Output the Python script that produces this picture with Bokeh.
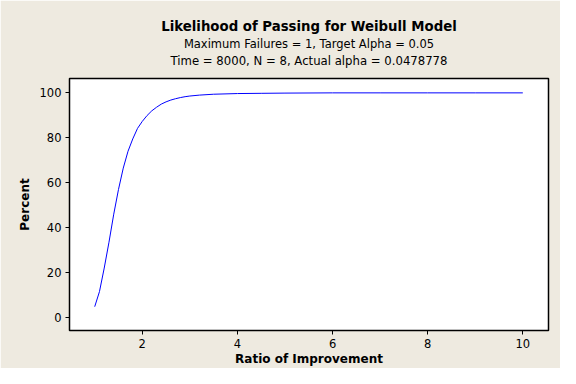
from bokeh.plotting import figure
from bokeh.models import Title, Range1d, FixedTicker
from bokeh.embed import file_html
from bokeh.resources import INLINE

title = "Likelihood of Passing for Weibull Model"
subtitle1 = "Maximum Failures = 1, Target Alpha = 0.05"
subtitle2 = "Time = 8000, N = 8, Actual alpha = 0.0478778"
x_label = "Ratio of Improvement"
y_label = "Percent"

ratio = [1.0, 1.1, 1.2, 1.3, 1.4, 1.5, 1.6, 1.7, 1.8, 1.9, 2.0, 2.1, 2.2, 2.3, 2.4,
         2.5, 2.6, 2.7, 2.8, 2.9, 3.0, 3.2, 3.5, 4.0, 4.5, 5.0, 6.0, 7.0, 8.0, 9.0, 10.0]
percent = [4.8, 11.5, 22.0, 33.5, 46.0, 57.0, 66.5, 74.0, 79.5, 84.2, 87.3, 89.9, 92.0,
           93.6, 95.0, 96.0, 96.8, 97.4, 97.9, 98.3, 98.6, 99.0, 99.4, 99.7, 99.8,
           99.9, 100.0, 100.0, 100.0, 100.0, 100.0]
x_ticks = [2, 4, 6, 8, 10]
y_ticks = [0, 20, 40, 60, 80, 100]

BG = "#EEEAE0"
FONT = "DejaVu Sans"

p = figure(width=560, height=368, output_backend="svg", toolbar_location=None,
           x_range=Range1d(0.47, 10.54), y_range=Range1d(-5.8, 106.4),
           min_border_left=69, min_border_right=12, min_border_top=78, min_border_bottom=30)
p.background_fill_color = "white"
p.border_fill_color = BG
p.outline_line_color = "black"
p.outline_line_width = 1.5
p.grid.visible = False

p.line(ratio, percent, line_color="#0000FF", line_width=1)

for ax in (p.xaxis[0], p.yaxis[0]):
    ax.axis_line_color = None
    ax.major_tick_out = 4
    ax.major_tick_in = 0
    ax.minor_tick_out = 0
    ax.minor_tick_in = 0
    ax.major_tick_line_color = "black"
    ax.major_label_text_font = FONT
    ax.major_label_text_font_size = "11.5px"
    ax.major_label_text_color = "black"
    ax.axis_label_text_font = FONT
    ax.axis_label_text_font_style = "bold"
    ax.axis_label_text_font_size = "12px"
    ax.axis_label_text_color = "black"

p.xaxis.ticker = FixedTicker(ticks=x_ticks)
p.yaxis.ticker = FixedTicker(ticks=y_ticks)
p.xaxis.axis_label = x_label
p.yaxis.axis_label = y_label
p.xaxis.major_label_standoff = 4
p.yaxis.major_label_standoff = 4
p.xaxis.axis_label_standoff = 1
p.yaxis.axis_label_standoff = 5

# spacer between frame and the subtitle block
p.add_layout(Title(text=" ", text_font_size="1px", standoff=8), "above")
p.add_layout(Title(text=subtitle2, align="center", text_font=FONT, text_font_style="normal",
                   text_font_size="11.7px", text_color="black", standoff=0, offset=-21), "above")
p.add_layout(Title(text=subtitle1, align="center", text_font=FONT, text_font_style="normal",
                   text_font_size="11.5px", text_color="black", standoff=2, offset=-21), "above")
p.add_layout(Title(text=title, align="center", text_font=FONT, text_font_style="bold",
                   text_font_size="13.3px", text_color="black", standoff=0, offset=-21), "above")

open("out.html", "w").write(file_html(p, INLINE))
